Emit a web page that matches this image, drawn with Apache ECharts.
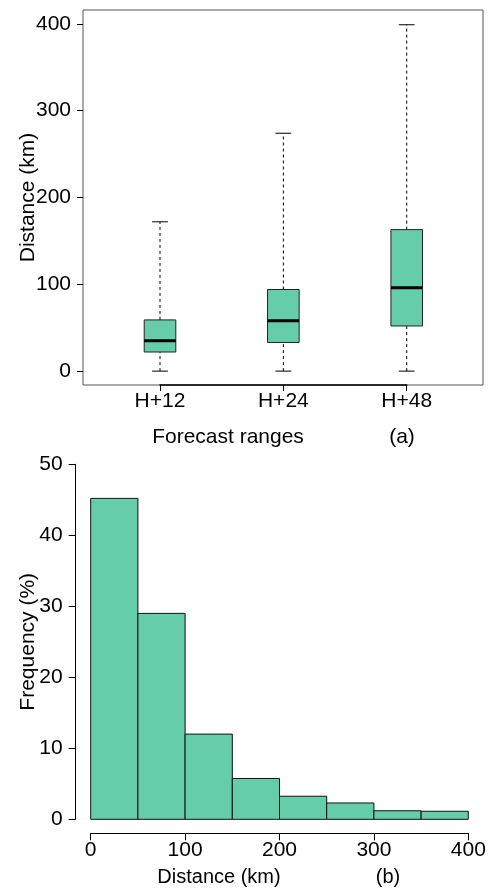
<!DOCTYPE html>
<html>
<head>
<meta charset="utf-8">
<title>Distance errors</title>
<script src="https://cdn.jsdelivr.net/npm/echarts@6/dist/echarts.min.js"></script>
<style>
	html, body { margin: 0; padding: 0; background: #fff; }
	#main { width: 490px; height: 889px; }
</style>
</head>
<body>
<div id="main"></div>
<script>
// (a) 箱线图数据: 最小, Q1, 中位数, Q3, 最大
var ranges = ['H+12', 'H+24', 'H+48'];
var whiskerLow = [0, 0, 0];
var quartile1 = [22, 33, 52];
var medians = [35, 58, 96];
var quartile3 = [59, 94, 163];
var whiskerHigh = [172, 274, 399];
var distTicks = [0, 100, 200, 300, 400];

// (b) 直方图数据
var binStart = [0, 50, 100, 150, 200, 250, 300, 350];
var binWidth = 50;
var frequency = [45.2, 29.0, 12.0, 5.75, 3.25, 2.3, 1.2, 1.13];

var fill = '#66CDAA';
var font = '"Liberation Sans", Arial, sans-serif';

var boxData = [];
for (var i = 0; i < ranges.length; i++) {
	boxData.push([i, whiskerLow[i], quartile1[i], medians[i], quartile3[i], whiskerHigh[i]]);
}
var histData = [];
for (var j = 0; j < binStart.length; j++) {
	histData.push([binStart[j], binStart[j] + binWidth, frequency[j]]);
}

function renderBox(params, api) {
	var x = api.value(0);
	var step = api.coord([1, 0])[0] - api.coord([0, 0])[0];
	var half = step * 0.128;
	var cap = half / 2;
	var cx = api.coord([x, 0])[0];
	var yMin = api.coord([x, api.value(1)])[1];
	var yQ1 = api.coord([x, api.value(2)])[1];
	var yMed = api.coord([x, api.value(3)])[1];
	var yQ3 = api.coord([x, api.value(4)])[1];
	var yMax = api.coord([x, api.value(5)])[1];
	var dashed = { stroke: '#000', lineWidth: 1, lineDash: [3, 3], fill: null };
	var solid = { stroke: '#000', lineWidth: 1, fill: null };
	return {
		type: 'group',
		children: [
			{ type: 'line', shape: { x1: cx, y1: yQ3, x2: cx, y2: yMax }, style: dashed },
			{ type: 'line', shape: { x1: cx, y1: yMin, x2: cx, y2: yQ1 }, style: dashed },
			{ type: 'line', shape: { x1: cx - cap, y1: yMax, x2: cx + cap, y2: yMax }, style: solid },
			{ type: 'line', shape: { x1: cx - cap, y1: yMin, x2: cx + cap, y2: yMin }, style: solid },
			{ type: 'rect', shape: { x: cx - half, y: yQ3, width: half * 2, height: yQ1 - yQ3 },
				style: { fill: fill, stroke: '#222', lineWidth: 1 } },
			{ type: 'line', shape: { x1: cx - half, y1: yMed, x2: cx + half, y2: yMed },
				style: { stroke: '#000', lineWidth: 3 } }
		]
	};
}

function renderBar(params, api) {
	var p0 = api.coord([api.value(0), api.value(2)]);
	var p1 = api.coord([api.value(1), 0]);
	return {
		type: 'rect',
		shape: { x: p0[0], y: p0[1], width: p1[0] - p0[0], height: p1[1] - p0[1] },
		style: { fill: fill, stroke: '#111', lineWidth: 1 }
	};
}

var labelStyle = { color: '#000', fontSize: 21, fontFamily: font };
var nameStyle = { color: '#000', fontSize: 21, fontFamily: font };

var myChart = echarts.init(document.getElementById('main'), null, { renderer: 'canvas' });
var option = {
	animation: false,
	backgroundColor: '#fff',
	grid: [
		// 外框
		{ left: 83, top: 10, width: 400, height: 375, show: true, borderColor: '#555', borderWidth: 1 },
		// 箱线图
		{ left: 160, top: 10, width: 246.7, height: 375 },
		// 直方图
		{ left: 90.7, top: 464.3, width: 377.6, height: 355 }
	],
	xAxis: [
		{ gridIndex: 0, type: 'value', min: 0, max: 1, show: false },
		{
			gridIndex: 1, type: 'category', data: ranges, boundaryGap: false,
			axisLine: { show: true, onZero: false, lineStyle: { color: '#000', width: 1.5 } },
			axisTick: { show: true, length: 6, lineStyle: { color: '#000' } },
			axisLabel: Object.assign({ margin: 6, interval: 0 }, labelStyle),
			splitLine: { show: false }
		},
		{
			gridIndex: 2, type: 'value', min: 0, max: 400, interval: 100, offset: 14,
			axisLine: { show: true, onZero: false, lineStyle: { color: '#000', width: 1 } },
			axisTick: { show: true, length: 7, lineStyle: { color: '#000' } },
			axisLabel: Object.assign({ margin: 6 }, labelStyle),
			splitLine: { show: false }
		}
	],
	yAxis: [
		{
			gridIndex: 0, type: 'value', min: -16, max: 416,
			name: 'Distance (km)', nameLocation: 'middle', nameRotate: 90, nameGap: 44,
			nameMoveOverlap: false,
			nameTextStyle: nameStyle,
			axisLine: { show: false },
			axisTick: { show: true, length: 6, customValues: distTicks, lineStyle: { color: '#000' } },
			axisLabel: Object.assign({ margin: 12, customValues: distTicks }, labelStyle),
			splitLine: { show: false }
		},
		{ gridIndex: 1, type: 'value', min: -16, max: 416, show: false },
		{
			gridIndex: 2, type: 'value', min: 0, max: 50, interval: 10, offset: 15,
			name: 'Frequency (%)', nameLocation: 'middle', nameRotate: 90, nameGap: 37,
			nameMoveOverlap: false,
			nameTextStyle: nameStyle,
			axisLine: { show: true, onZero: false, lineStyle: { color: '#000', width: 1 } },
			axisTick: { show: true, length: 7, lineStyle: { color: '#000' } },
			axisLabel: Object.assign({ margin: 13 }, labelStyle),
			splitLine: { show: false }
		}
	],
	graphic: [
		{ type: 'text', x: 228, y: 437, style: { text: 'Forecast ranges', fill: '#000', font: '21px ' + font, align: 'center', verticalAlign: 'middle' } },
		{ type: 'text', x: 402, y: 437, style: { text: '(a)', fill: '#000', font: '21px ' + font, align: 'center', verticalAlign: 'middle' } },
		{ type: 'text', x: 219, y: 877, style: { text: 'Distance (km)', fill: '#000', font: '20px ' + font, align: 'center', verticalAlign: 'middle' } },
		{ type: 'text', x: 388, y: 877, style: { text: '(b)', fill: '#000', font: '20px ' + font, align: 'center', verticalAlign: 'middle' } }
	],
	series: [
		{
			type: 'custom', name: 'box', xAxisIndex: 1, yAxisIndex: 1,
			renderItem: renderBox, data: boxData, encode: { x: 0, y: [1, 2, 3, 4, 5] }, z: 5
		},
		{
			type: 'custom', name: 'hist', xAxisIndex: 2, yAxisIndex: 2,
			renderItem: renderBar, data: histData, encode: { x: [0, 1], y: 2 }
		}
	]
};
myChart.setOption(option);
</script>
</body>
</html>
